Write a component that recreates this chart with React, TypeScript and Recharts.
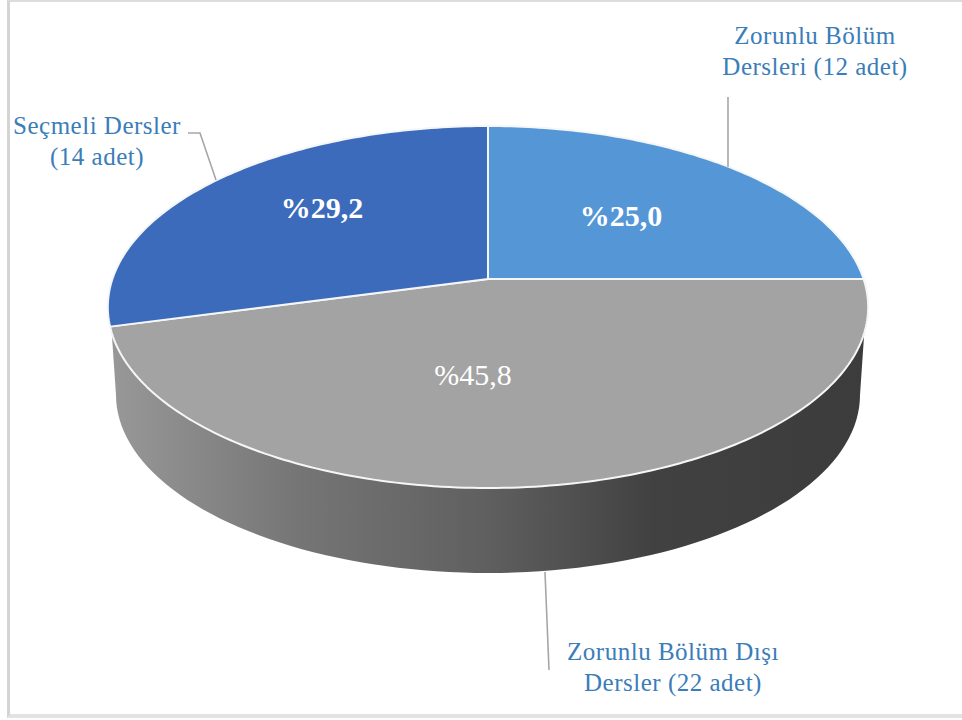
import React from "react";
import { PieChart, Pie, Cell } from "recharts";

const categories = ["Zorunlu Bölüm Dersleri", "Zorunlu Bölüm Dışı Dersler", "Seçmeli Dersler"];
const counts = [12, 22, 14];
const calloutLines = [
  ["Zorunlu Bölüm", "Dersleri (12 adet)"],
  ["Zorunlu Bölüm Dışı", "Dersler (22 adet)"],
  ["Seçmeli Dersler", "(14 adet)"],
];

const sliceColors = ["#5596d6", "#a3a3a3", "#3d6bbb"];
const labelColor = "#3a7db8";
const leaderColor = "#a6a6a6";
const serif = "'Liberation Serif', serif";

const chartData = categories.map((name, i) => ({ name, value: counts[i] }));
const total = counts.reduce((a, b) => a + b, 0);

// tilted top face: the pie circle seen in perspective, so the apex sits above the ellipse centre
const TOP = { cx: 488, cy: 307, rx: 380, ry: 181 };
const WALL = { cx: 488, cy: 395, rx: 372, ry: 178 };
const TILT = 0.1547;
const FRONT_X = 375.6;

const project = (cx: number, angle: number) => {
  const rad = (angle * Math.PI) / 180;
  const u = Math.cos(rad);
  const v = Math.sin(rad);
  const d = 1 + TILT * v;
  return {
    x: cx + (FRONT_X * u) / d,
    y: TOP.cy + (-TOP.ry * v - 28) / d,
  };
};

const sectorPath = (cx: number, cy: number, startAngle: number, endAngle: number) => {
  let d = `M${cx},${cy}`;
  const steps = Math.ceil(Math.abs(endAngle - startAngle));
  for (let i = 0; i <= steps; i++) {
    const p = project(cx, startAngle + ((endAngle - startAngle) * i) / steps);
    d += `L${p.x.toFixed(2)},${p.y.toFixed(2)}`;
  }
  return d + "Z";
};

const ellipsePoint = (e: typeof TOP, deg: number) => {
  const rad = (deg * Math.PI) / 180;
  return `${(e.cx + e.rx * Math.cos(rad)).toFixed(2)},${(e.cy + e.ry * Math.sin(rad)).toFixed(2)}`;
};

// outer wall of the cylinder, only the front half shows
const wallPath = () => {
  const pts: string[] = [];
  for (let a = 172; a >= 8; a -= 2) pts.push(ellipsePoint(TOP, a));
  for (let a = 0; a <= 180; a += 2) pts.push(ellipsePoint(WALL, a));
  return "M" + pts.join("L") + "Z";
};

const SliceShape = (props: any) => {
  const { cx, cy, startAngle, endAngle, fill, index } = props;
  return (
    <g>
      {index === 1 && <path d={wallPath()} fill="url(#wallShade)" />}
      <path
        d={sectorPath(cx, cy, startAngle, endAngle)}
        fill={fill}
        stroke="#f4f6f8"
        strokeWidth={2}
        strokeLinejoin="round"
      />
    </g>
  );
};

const percentSpots = [
  { x: 621, y: 226, weight: 700 },
  { x: 473, y: 385, weight: 400 },
  { x: 322, y: 218, weight: 700 },
];
const calloutSpots = [
  { x: 815, y: 44 },
  { x: 673, y: 660 },
  { x: 97, y: 134 },
];
const leaders = ["M728,97V167", "M545,572L549,670", "M188,133H200L216,180"];

const SliceLabel = (props: any) => {
  const { index, value } = props;
  const pct = ((value / total) * 100).toFixed(1).replace(".", ",");
  const spot = percentSpots[index];
  const call = calloutSpots[index];
  return (
    <g>
      <path d={leaders[index]} fill="none" stroke={leaderColor} strokeWidth={1.6} />
      <text
        x={spot.x}
        y={spot.y}
        textAnchor="middle"
        fill="#ffffff"
        fontFamily={serif}
        fontSize={30}
        fontWeight={spot.weight}
      >
        %{pct}
      </text>
      {calloutLines[index].map((line, i) => (
        <text
          key={line}
          x={call.x}
          y={call.y + i * 31}
          textAnchor="middle"
          fill={labelColor}
          fontFamily={serif}
          fontSize={25}
          letterSpacing={0.5}
        >
          {line}
        </text>
      ))}
    </g>
  );
};

export default function App() {
  return (
    <div style={{ position: "absolute", left: 0, top: 0, width: 962, height: 720, background: "#ffffff" }}>
      <div
        style={{
          position: "absolute",
          left: 7,
          top: 0,
          width: 955,
          height: 718,
          boxSizing: "border-box",
          borderLeft: "3px solid #d4d4d4",
          borderTop: "2px solid #dcdcdc",
          borderBottom: "4px solid #e2e2e2",
        }}
      />
      <div style={{ position: "absolute", left: 0, top: 0 }}>
        <PieChart width={962} height={720} margin={{ top: 0, right: 0, bottom: 0, left: 0 }}>
          <defs>
            <linearGradient id="wallShade" x1="0" y1="0" x2="1" y2="0">
              <stop offset="0" stopColor="#989898" />
              <stop offset="0.25" stopColor="#757575" />
              <stop offset="0.5" stopColor="#5f5f5f" />
              <stop offset="0.72" stopColor="#414141" />
              <stop offset="1" stopColor="#3c3c3c" />
            </linearGradient>
          </defs>
          <Pie
            data={chartData}
            dataKey="value"
            nameKey="name"
            cx={488}
            cy={279}
            outerRadius={380}
            startAngle={90}
            endAngle={-270}
            stroke="none"
            shape={SliceShape}
            label={SliceLabel}
            labelLine={false}
            isAnimationActive={false}
          >
            {chartData.map((d, i) => (
              <Cell key={d.name} fill={sliceColors[i]} />
            ))}
          </Pie>
        </PieChart>
      </div>
    </div>
  );
}
